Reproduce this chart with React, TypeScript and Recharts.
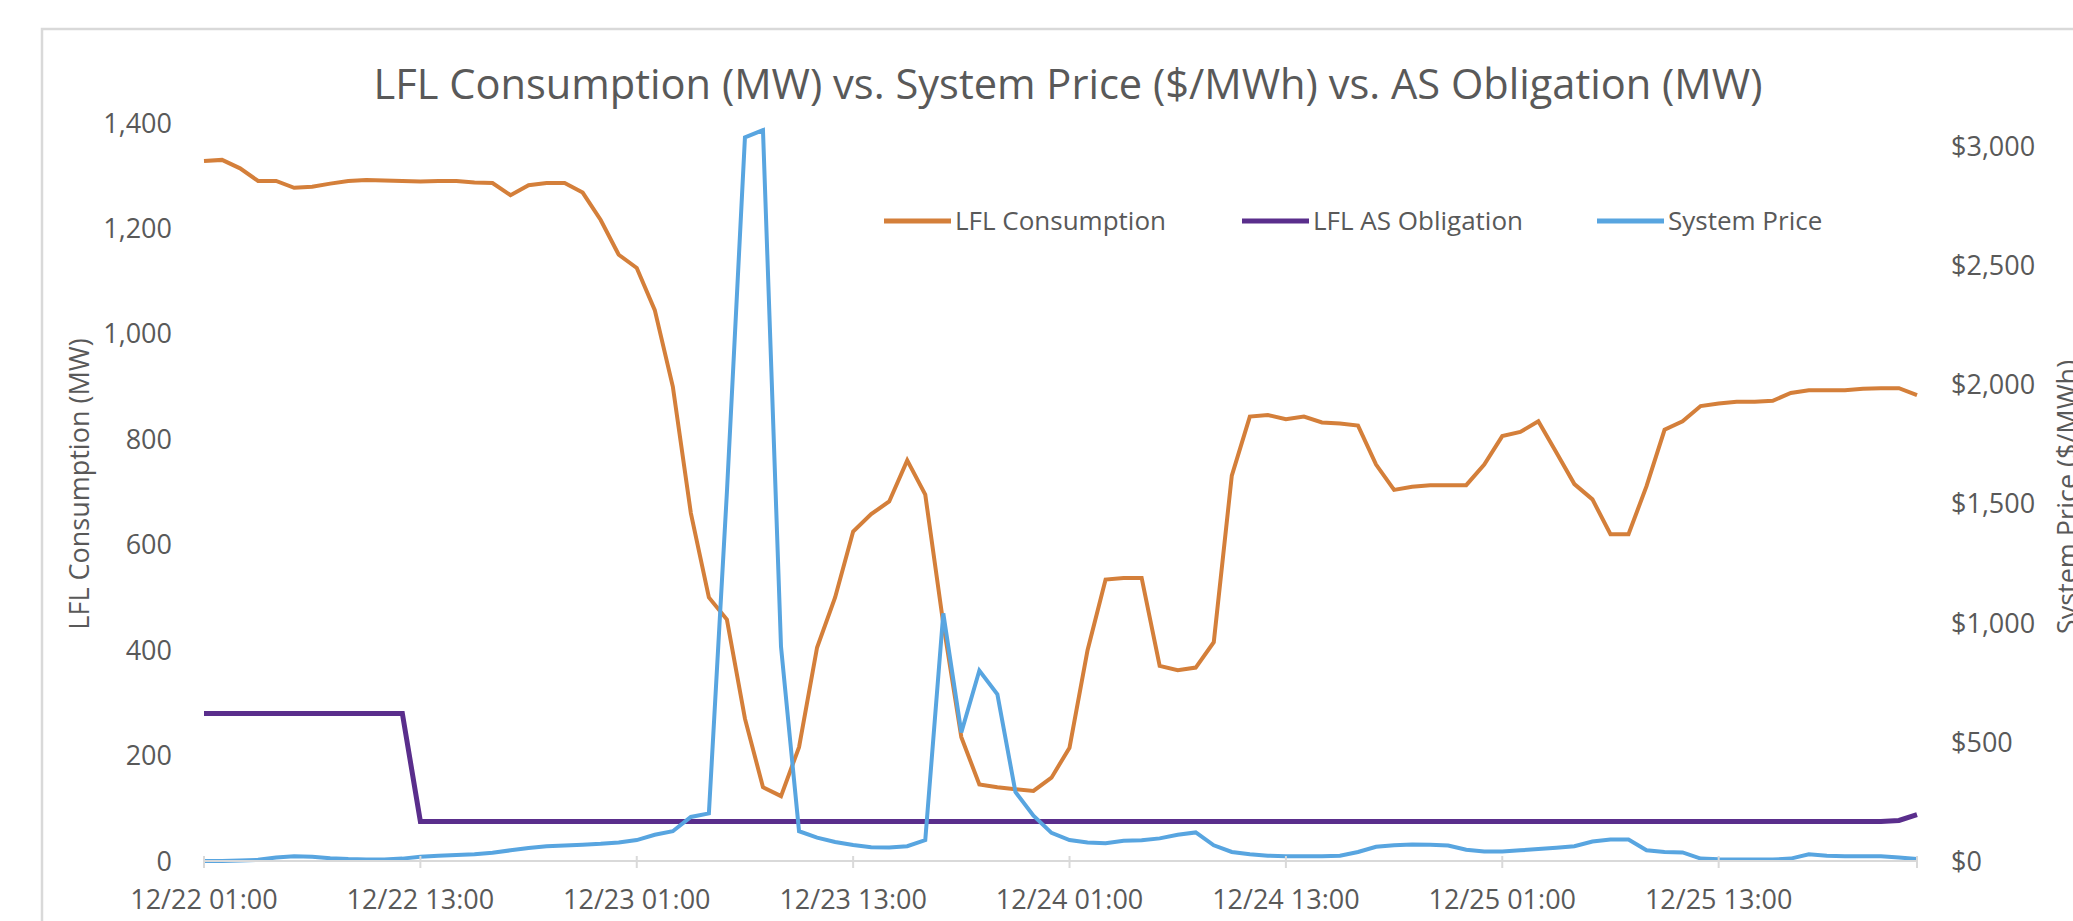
import React from "react";
import { LineChart, Line, XAxis, YAxis } from "recharts";

const FONT = '"Open Sans", sans-serif';
const TEXT = "#595959";
const GRID = "#d9d9d9";

const COLORS = {
  consumption: "#D47F3A",
  obligation: "#5A2E8C",
  price: "#58A5E0",
};

// hourly points, 12/22 01:00 .. 12/26 00:00
const days = ["12/22", "12/23", "12/24", "12/25", "12/26"];
const hours: string[] = [];
for (let h = 1; h <= 96; h++) {
  hours.push(`${days[Math.floor(h / 24)]} ${String(h % 24).padStart(2, "0")}:00`);
}

// LFL Consumption (MW)
const consumption = [
  1328, 1330, 1314, 1290, 1290, 1277, 1279, 1285, 1290, 1292,
  1291, 1290, 1289, 1290, 1290, 1287, 1286, 1263, 1282, 1286,
  1286, 1268, 1216, 1150, 1125, 1045, 900, 660, 500, 458,
  270, 140, 123, 216, 405, 500, 625, 658, 682, 760,
  695, 450, 235, 145, 140, 136, 133, 158, 215, 400,
  534, 537, 537, 370, 362, 367, 415, 731, 843, 846,
  838, 843, 832, 830, 826, 752, 704, 710, 713, 713,
  713, 752, 806, 814, 834, 775, 715, 686, 620, 620,
  711, 818, 834, 863, 868, 871, 871, 873, 888, 893,
  893, 893, 896, 897, 897, 884,
];

// LFL AS Obligation (MW)
const obligation = [
  280, 280, 280, 280, 280, 280, 280, 280, 280, 280,
  280, 280, 75, 75, 75, 75, 75, 75, 75, 75,
  75, 75, 75, 75, 75, 75, 75, 75, 75, 75,
  75, 75, 75, 75, 75, 75, 75, 75, 75, 75,
  75, 75, 75, 75, 75, 75, 75, 75, 75, 75,
  75, 75, 75, 75, 75, 75, 75, 75, 75, 75,
  75, 75, 75, 75, 75, 75, 75, 75, 75, 75,
  75, 75, 75, 75, 75, 75, 75, 75, 75, 75,
  75, 75, 75, 75, 75, 75, 75, 75, 75, 75,
  75, 75, 75, 75, 77, 88,
];

// System Price ($/MWh)
const price = [
  0, 0, 2, 5, 15, 20, 18, 12, 8, 6,
  6, 10, 18, 22, 25, 28, 35, 45, 55, 62,
  65, 68, 72, 78, 88, 110, 125, 185, 200, 1550,
  3040, 3070, 900, 125, 98, 80, 67, 58, 57, 62,
  88, 1040, 540, 800, 700, 290, 190, 118, 88, 78,
  75, 85, 87, 95, 110, 120, 66, 38, 28, 22,
  20, 20, 20, 22, 38, 60, 66, 69, 68, 65,
  47, 40, 40, 45, 50, 56, 62, 82, 90, 90,
  45, 38, 36, 10, 7, 6, 6, 6, 10, 28,
  22, 20, 20, 20, 15, 8,
];

const leftTicks = [0, 200, 400, 600, 800, 1000, 1200, 1400];
const rightTicks = [0, 500, 1000, 1500, 2000, 2500, 3000];

const series = [
  { key: "consumption", name: "LFL Consumption", color: COLORS.consumption },
  { key: "obligation", name: "LFL AS Obligation", color: COLORS.obligation },
  { key: "price", name: "System Price", color: COLORS.price },
];

const data = hours.map((time, i) => ({
  time,
  consumption: consumption[i],
  obligation: obligation[i],
  price: price[i],
}));

const XTick = (props: any) => {
  const { x, y, payload } = props;
  const i = props.index ?? payload.index;
  const showLabel = i % 12 === 0;
  const showLine = showLabel || i === hours.length - 1;
  return (
    <g>
      {showLine && <line x1={x} x2={x} y1={y - 5} y2={y + 7} stroke={GRID} strokeWidth={2} />}
      {showLabel && (
        <text x={x} y={y + 39} dy="0.35em" textAnchor="middle" fill={TEXT} fontSize={27} fontFamily={FONT}>
          {payload.value}
        </text>
      )}
    </g>
  );
};

const legendX = [884, 1242, 1597];

export default function App() {
  return (
    <div style={{ position: "fixed", left: 0, top: 0, width: 2073, height: 921, overflow: "hidden", background: "#fff" }}>
      <LineChart width={2073} height={921} data={data} margin={{ top: 123, right: 0, bottom: 0, left: 0 }}>
        <XAxis
          dataKey="time"
          interval={0}
          height={60}
          tickSize={0}
          tickMargin={0}
          tickLine={false}
          axisLine={{ stroke: GRID, strokeWidth: 2 }}
          tick={<XTick />}
        />
        <YAxis
          yAxisId="left"
          width={204}
          domain={[0, 1400]}
          ticks={leftTicks}
          axisLine={false}
          tickLine={false}
          tickSize={0}
          tickMargin={32}
          tick={{ fill: TEXT, fontSize: 27, fontFamily: FONT }}
          tickFormatter={(v: number) => v.toLocaleString("en-US")}
        />
        <YAxis
          yAxisId="right"
          orientation="right"
          width={156}
          domain={[0, 3100]}
          ticks={rightTicks}
          axisLine={false}
          tickLine={false}
          tickSize={0}
          tickMargin={34}
          tick={{ fill: TEXT, fontSize: 27, fontFamily: FONT, textAnchor: "start" }}
          tickFormatter={(v: number) => "$" + v.toLocaleString("en-US")}
        />
        <Line yAxisId="left" type="linear" dataKey="consumption" name="LFL Consumption" stroke={COLORS.consumption} strokeWidth={4} dot={false} isAnimationActive={false} />
        <Line yAxisId="left" type="linear" dataKey="obligation" name="LFL AS Obligation" stroke={COLORS.obligation} strokeWidth={5} dot={false} isAnimationActive={false} />
        <Line yAxisId="right" type="linear" dataKey="price" name="System Price" stroke={COLORS.price} strokeWidth={4} dot={false} isAnimationActive={false} />
      </LineChart>

      <svg width={2073} height={921} style={{ position: "absolute", left: 0, top: 0, pointerEvents: "none" }}>
        <rect x={42} y={29} width={2100} height={1000} fill="none" stroke={GRID} strokeWidth={2.5} />
        <text x={1068} y={99} textAnchor="middle" fill={TEXT} fontSize={41.6} fontFamily={FONT}>
          LFL Consumption (MW) vs. System Price ($/MWh) vs. AS Obligation (MW)
        </text>
        <text
          x={78}
          y={484}
          transform="rotate(-90 78 484)"
          textAnchor="middle"
          dominantBaseline="central"
          fill={TEXT}
          fontSize={27}
          fontFamily={FONT}
        >
          LFL Consumption (MW)
        </text>
        <text
          x={2066}
          y={497}
          transform="rotate(-90 2066 497)"
          textAnchor="middle"
          dominantBaseline="central"
          fill={TEXT}
          fontSize={27}
          fontFamily={FONT}
        >
          System Price ($/MWh)
        </text>
        {series.map((s, i) => (
          <g key={s.key}>
            <line x1={legendX[i]} x2={legendX[i] + 67} y1={221} y2={221} stroke={s.color} strokeWidth={5} />
            <text x={legendX[i] + 71} y={230} fill={TEXT} fontSize={26} fontFamily={FONT}>
              {s.name}
            </text>
          </g>
        ))}
      </svg>
    </div>
  );
}
